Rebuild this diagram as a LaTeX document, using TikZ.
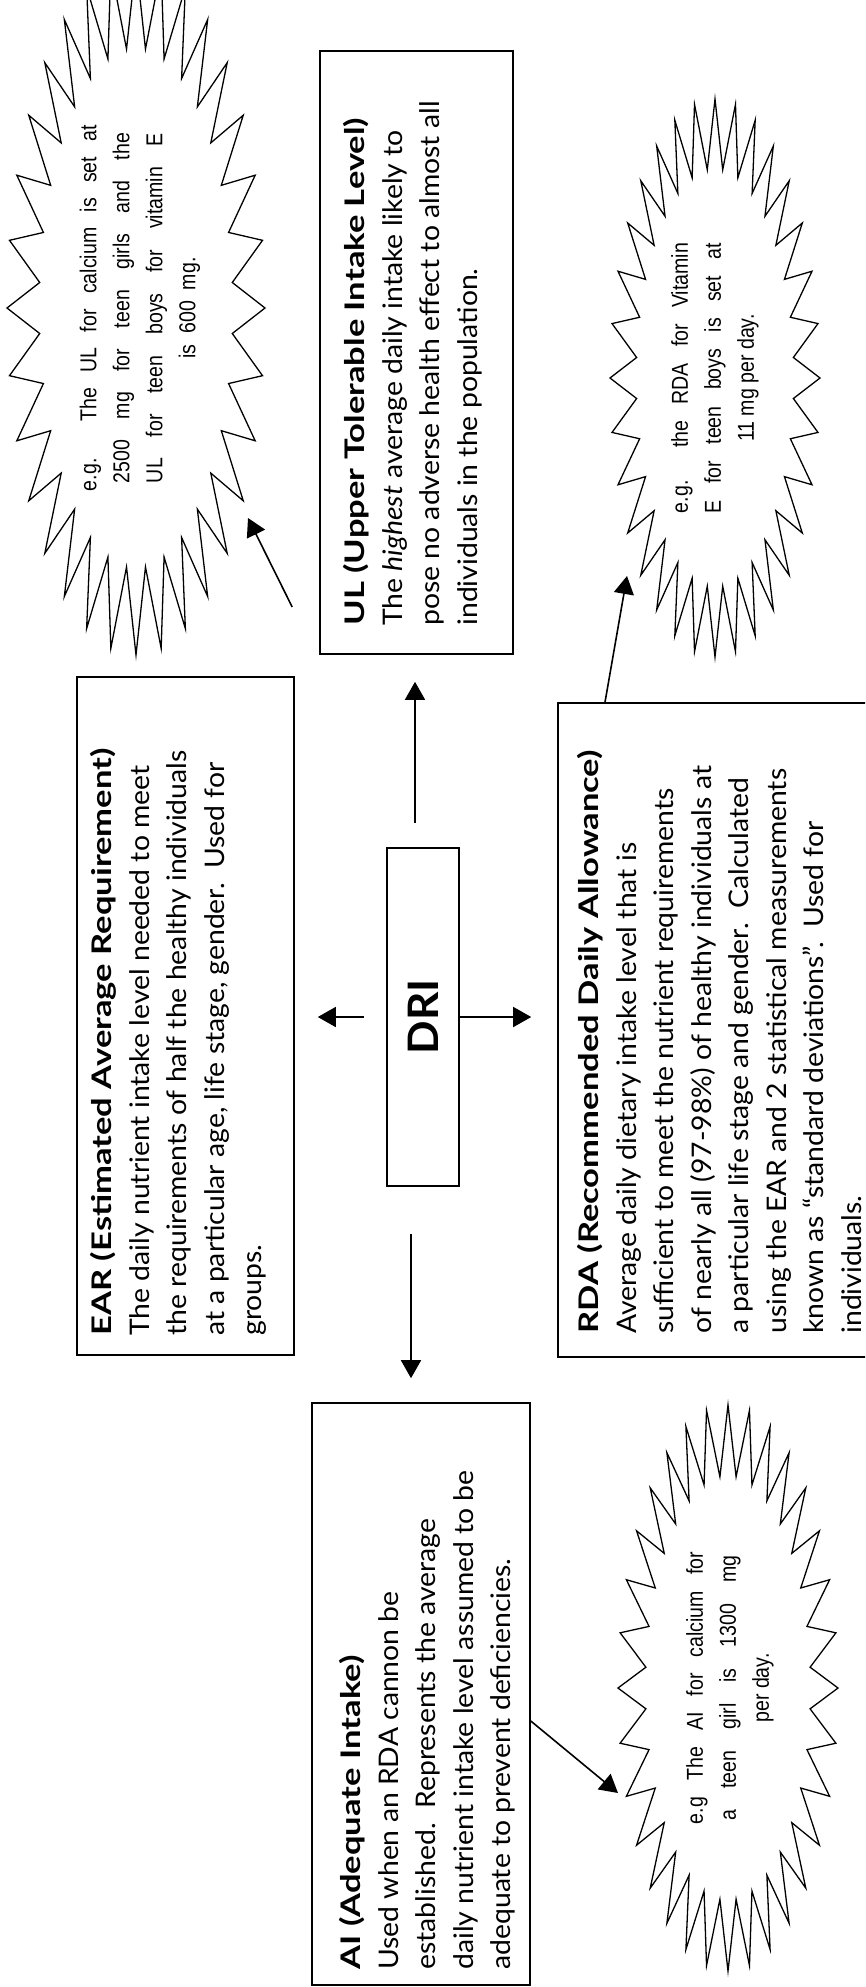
\documentclass[tikz,border=0pt]{standalone}
\usepackage{fontspec}
\setmainfont{Lato}[FakeStretch=1.05]
\newfontfamily\headfont{Lato}[FakeStretch=1.28]
\newfontfamily\burstfont{Liberation Sans}[FakeStretch=0.85]
\usetikzlibrary{arrows.meta,calc}
\newcommand{\starburst}[3]{%
  \draw[burst] ($(#1)+(#2,0)$)
    \foreach \i [evaluate=\i as \r using {1-0.25*mod(\i,2)}] in {1,...,63}
      { -- ($(#1)+({\r*#2*cos(\i*5.625)},{\r*#3*sin(\i*5.625)})$) } -- cycle;}
\begin{document}
\begin{tikzpicture}[x=1pt,y=-1pt,
  boxline/.style={draw, line width=1.6pt, rotate=90, inner sep=0pt},
  boxtext/.style={rotate=90, anchor=north west, inner sep=0pt, align=left,
    font=\fontsize{27}{37.5}\selectfont},
  arr/.style={line width=1.6pt, -{Triangle[length=18pt,width=20pt]}},
  burst/.style={line width=1.3pt, fill=white},
  bursttext/.style={rotate=90, inner sep=0pt, align=center,
    font=\burstfont\fontsize{23}{33}\selectfont},
]
\useasboundingbox (0,0) rectangle (865,1987);
\clip (0,0) rectangle (865,1987);
\fill[white] (0,0) rectangle (865,1987);

% boxes
\node[boxline, minimum width=603pt, minimum height=193pt] (ul) at (416.5,352.5) {};
\node[boxline, minimum width=678pt, minimum height=217pt] (ear) at (185.5,1016) {};
\node[boxline, minimum width=338pt, minimum height=72pt, font=\bfseries\fontsize{42}{42}\selectfont] (dri) at (423,1017) {DRI};
\node[boxline, minimum width=654pt, minimum height=342pt] (rda) at (729,1030) {};
\node[boxline, minimum width=582pt, minimum height=218pt] (ai) at (421,1694) {};

% box texts
\node[boxtext] (ultxt) at ($(ul.north west)+(24,-29)$) {%
{\headfont\bfseries UL (Upper Tolerable Intake Level)}\\
The \textit{highest} average daily intake likely to\\
pose no adverse health effect to almost all\\
individuals in the population.};

\node[boxtext] (eartxt) at ($(ear.north west)+(14,-20)$) {%
{\headfont\bfseries EAR (Estimated Average Requirement)}\\
The daily nutrient intake level needed to meet\\
the requirements of half the healthy individuals\\
at a particular age, life stage, gender.\ \ Used for\\
groups.};

\node[boxtext] (rdatxt) at ($(rda.north west)+(20,-24)$) {%
{\headfont\bfseries RDA (Recommended Daily Allowance)}\\
Average daily dietary intake level that is\\
sufficient to meet the nutrient requirements\\
of nearly all (97-98\%) of healthy individuals at\\
a particular life stage and gender.\ \ Calculated\\
using the EAR and 2 statistical measurements\\
known as ``standard deviations''.\ \ Used for\\
individuals.};

\node[boxtext] (aitxt) at ($(ai.north west)+(28,-16)$) {%
{\headfont\bfseries AI (Adequate Intake)}\\
Used when an RDA cannon be\\
established.\ \ Represents the average\\
daily nutrient intake level assumed to be\\
adequate to prevent deficiencies.};

% starbursts
\coordinate (ulc) at (136,308);
\coordinate (rdac) at (715,378);
\coordinate (aic) at (728,1688);
\starburst{ulc}{129}{347}
\starburst{rdac}{105}{279}
\starburst{aic}{110}{283}

\node[bursttext] (ulbt) at (140,308) {%
\makebox[366pt][s]{e.g. The UL for calcium is set at}\\
\makebox[350pt][s]{2500 mg for teen girls and the}\\
\makebox[350pt][s]{UL for teen boys for vitamin E}\\
is\ \ 600\ \ mg.};
\node[bursttext] (rdabt) at (715,378) {%
\makebox[270pt][s]{e.g.\ \ the RDA for Vitamin}\\
\makebox[270pt][s]{E for teen boys is set at}\\
11 mg per day.};
\node[bursttext] (aibt) at (730,1688) {%
\makebox[272pt][s]{e.g The AI for calcium for}\\
\makebox[265pt][s]{a teen girl is 1300 mg}\\
per day.};

% arrows from DRI
\coordinate (uA) at ($(dri.east)+(-8,0)$);
\draw[arr, shorten <=24pt, shorten >=27pt] (uA) -- (uA |- ul.west);
\draw[arr, shorten <=22pt, shorten >=23pt] (dri.north) -- (dri.north -| ear.south);
\draw[arr, shorten >=26pt] (dri.south) -- (dri.south -| rda.north);
\coordinate (dA) at ($(dri.west)+(-12,0)$);
\draw[arr, shorten <=47pt, shorten >=24pt] (dA) -- (dA |- ai.east);

% arrows to examples
\coordinate (ulS) at ($(ul.north)+(-27,254.5)$);
\coordinate (ulT) at (248,518);
\draw[arr] (ulS) -- (ulT);
\coordinate (rdaS) at ($(rda.east)+(-124,0)$);
\coordinate (rdaT) at (627,576);
\draw[arr] (rdaS) -- (rdaT);
\coordinate (aiS) at ($(ai.south)+(0,27)$);
\coordinate (aiT) at (618,1793);
\draw[arr] (aiS) -- (aiT);
\end{tikzpicture}
\end{document}
